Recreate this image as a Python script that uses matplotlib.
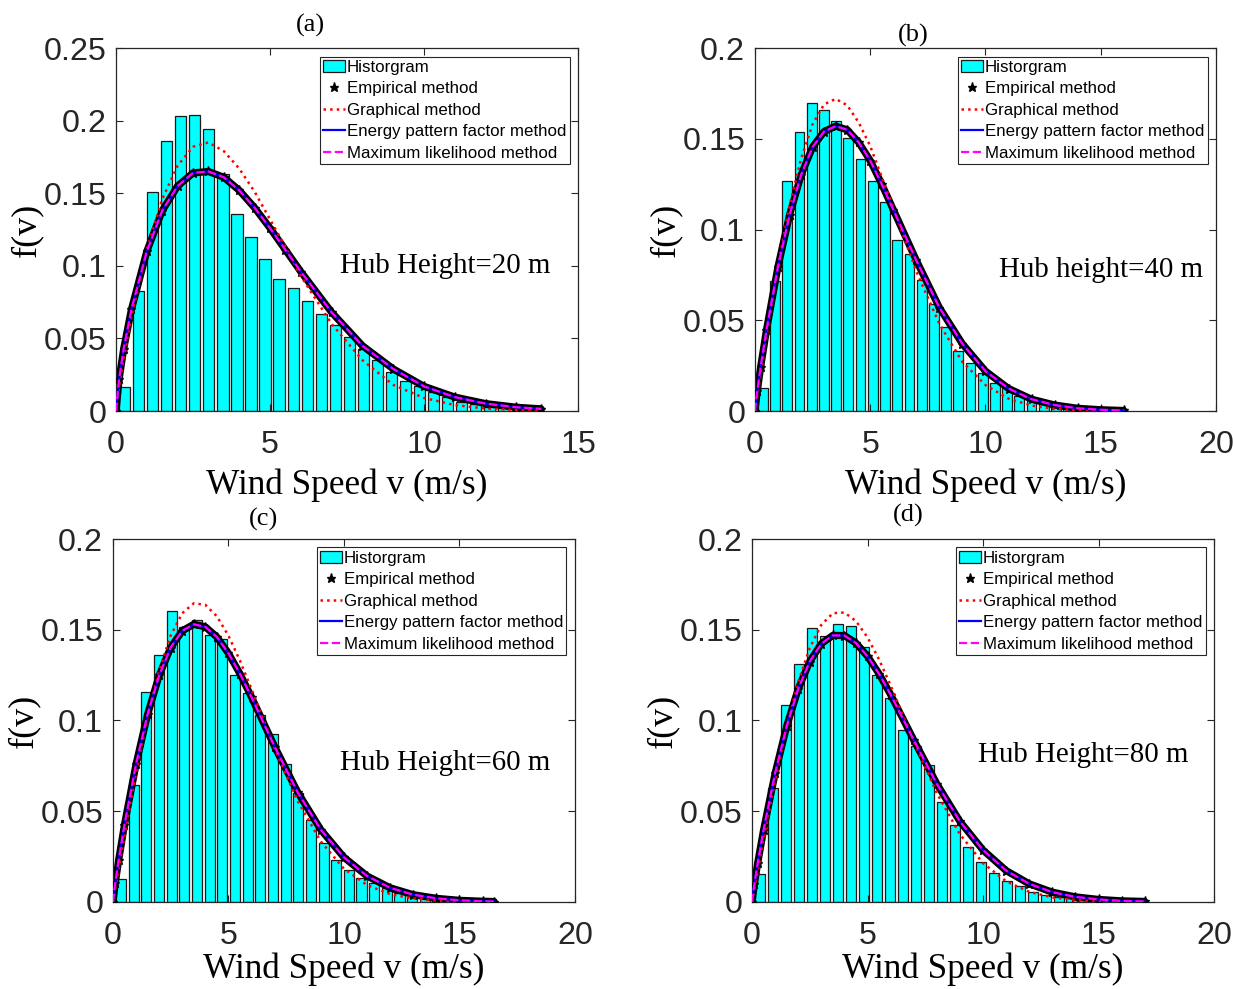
import numpy as np
import matplotlib
matplotlib.use('Agg')
import matplotlib.pyplot as plt
from matplotlib.ticker import FuncFormatter

# ---- data ----
# histogram: 30 bins per hub height (start edge, bin width, heights)
bars_a = [0.0165, 0.083, 0.151, 0.186, 0.203, 0.204, 0.194, 0.163, 0.136, 0.120,
          0.105, 0.091, 0.085, 0.076, 0.067, 0.059, 0.051, 0.043, 0.035, 0.027,
          0.021, 0.017, 0.013, 0.0094, 0.0064, 0.005, 0.003, 0.002, 0.001, 0.0006]
bars_b = [0.0128, 0.0717, 0.127, 0.154, 0.170, 0.1657, 0.160, 0.1506, 0.139, 0.127,
          0.115, 0.094, 0.0868, 0.0721, 0.0589, 0.0464, 0.0332, 0.0262, 0.0207, 0.0152,
          0.0125, 0.0083, 0.006, 0.0045, 0.0035, 0.0025, 0.0015, 0.001, 0.0007, 0.0004]
bars_c = [0.0128, 0.0644, 0.1156, 0.1363, 0.1606, 0.1517, 0.1554, 0.1472, 0.1451, 0.1253,
          0.1149, 0.1029, 0.0927, 0.0761, 0.0602, 0.045, 0.0323, 0.0229, 0.0174, 0.0134,
          0.0106, 0.0075, 0.005, 0.0035, 0.0025, 0.0018, 0.0012, 0.0008, 0.0005, 0.0003]
bars_d = [0.0152, 0.063, 0.1088, 0.1312, 0.151, 0.1468, 0.1529, 0.1519, 0.1404, 0.1253,
          0.1125, 0.0947, 0.0857, 0.0752, 0.0549, 0.0422, 0.0303, 0.022, 0.016, 0.0116,
          0.0088, 0.0057, 0.004, 0.003, 0.002, 0.0014, 0.001, 0.0006, 0.0004, 0.0002]
bin_start = [0.05, 0.075, 0.076, 0.07]
bin_width = [0.456, 0.53, 0.548, 0.562]

# fitted Weibull pdf curves (wind speed, pdf)
v_a = [0, 0.1, 0.25, 0.5, 1, 1.5, 2, 2.5, 3, 3.5, 4, 4.5, 5, 5.5, 6, 7, 8, 9, 10, 11, 12, 13, 13.8]
fit_a = [0, 0.022, 0.043, 0.070, 0.110, 0.138, 0.155, 0.164, 0.165, 0.161, 0.152, 0.140,
         0.126, 0.111, 0.096, 0.068, 0.045, 0.029, 0.017, 0.0096, 0.0051, 0.0026, 0.0015]
graph_a = [0, 0.017, 0.036, 0.065, 0.111, 0.146, 0.169, 0.182, 0.185, 0.179, 0.167, 0.151,
           0.132, 0.113, 0.093, 0.060, 0.035, 0.018, 0.009, 0.0041, 0.0017, 0.0007, 0.0003]

v_b = [0, 0.1, 0.25, 0.5, 1, 1.5, 2, 2.5, 3, 3.5, 4, 4.5, 5, 5.5, 6, 7, 8, 9, 10, 11, 12, 13, 14, 15, 16]
fit_b = [0, 0.011, 0.0245, 0.0447, 0.0796, 0.108, 0.130, 0.1455, 0.154, 0.157, 0.155, 0.148,
         0.138, 0.125, 0.111, 0.083, 0.057, 0.037, 0.022, 0.0124, 0.0065, 0.0033, 0.0015, 0.0007, 0.0003]
graph_b = [0, 0.0087, 0.0214, 0.042, 0.080, 0.113, 0.139, 0.158, 0.169, 0.172, 0.1685, 0.159,
           0.146, 0.129, 0.112, 0.077, 0.048, 0.027, 0.0143, 0.0068, 0.003, 0.0012, 0.0004, 0.00015, 0.0]

v_c = [0, 0.1, 0.25, 0.5, 1, 1.5, 2, 2.5, 3, 3.5, 4, 4.5, 5, 5.5, 6, 7, 8, 9, 10, 11, 12, 13, 14, 15, 16, 16.5]
fit_c = [0, 0.0104, 0.0233, 0.0426, 0.0759, 0.1034, 0.1248, 0.1402, 0.1494, 0.153, 0.1516, 0.146,
         0.137, 0.1257, 0.1128, 0.0856, 0.0604, 0.0398, 0.0246, 0.0143, 0.0078, 0.004, 0.002,
         0.0009, 0.0004, 0.00025]
graph_c = [0, 0.0074, 0.0185, 0.0366, 0.0713, 0.1021, 0.1276, 0.1468, 0.1591, 0.1646, 0.1637, 0.1574,
           0.1467, 0.1329, 0.1172, 0.0845, 0.0555, 0.0333, 0.0183, 0.0093, 0.0043, 0.0019, 0.0007,
           0.0003, 0.0001, 0.0]

v_d = [0, 0.1, 0.25, 0.5, 1, 1.5, 2, 2.5, 3, 3.5, 4, 4.5, 5, 5.5, 6, 7, 8, 9, 10, 11, 12, 13, 14, 15, 16, 17]
fit_d = [0, 0.0097, 0.0217, 0.0396, 0.0709, 0.0968, 0.1174, 0.1325, 0.1423, 0.1469, 0.1468, 0.1427,
         0.1354, 0.1257, 0.1143, 0.0893, 0.0651, 0.0444, 0.0286, 0.0173, 0.0100, 0.0054, 0.0028,
         0.0014, 0.0006, 0.0003]
graph_d = [0, 0.007, 0.0174, 0.0345, 0.0672, 0.0966, 0.1211, 0.140, 0.1527, 0.1591, 0.1595, 0.1548,
           0.1458, 0.1336, 0.1193, 0.0885, 0.060, 0.0373, 0.0214, 0.0114, 0.0056, 0.0025, 0.0011,
           0.0004, 0.0001, 0.0]

panel_titles = ['(a)', '(b)', '(c)', '(d)']
hub_labels = ['Hub Height=20 m', 'Hub height=40 m', 'Hub Height=60 m', 'Hub Height=80 m']
x_max = [15, 20, 20, 20]
y_max = [0.25, 0.2, 0.2, 0.2]

# ---- layout ----
axes_pos = [[0.0941, 0.5844, 0.3747, 0.367],
            [0.6123, 0.5844, 0.3739, 0.367],
            [0.0916, 0.0880, 0.3747, 0.367],
            [0.6099, 0.0880, 0.3747, 0.367]]
title_pos = [(0.42, 1.063), (0.343, 1.036), (0.325, 1.055), (0.338, 1.066)]
hub_pos = [(7.27, 0.100), (10.59, 0.0777), (9.83, 0.0766), (9.78, 0.081)]
xlabel_pad = [6, 6, 1, 1]

serif = 'Liberation Serif'
sans = 'Liberation Sans'

speeds = [v_a, v_b, v_c, v_d]
fits = [fit_a, fit_b, fit_c, fit_d]
graphs = [graph_a, graph_b, graph_c, graph_d]
bars = [bars_a, bars_b, bars_c, bars_d]

fig = plt.figure(figsize=(12.33, 9.89), dpi=100)
fmt = FuncFormatter(lambda x, p: '%g' % round(x, 4))

for i in range(4):
    ax = fig.add_axes(axes_pos[i])
    centers = bin_start[i] + (np.arange(len(bars[i])) + 0.5) * bin_width[i]
    h_bar = ax.bar(centers, bars[i], width=0.8 * bin_width[i], color='#00FFFF',
                   edgecolor='#1a1a1a', linewidth=0.9, label='Historgram', zorder=1)
    # empirical: dense stars -> thick black band
    ax.plot(speeds[i], fits[i], color='k', lw=5.2, solid_capstyle='round', zorder=2)
    h_emp, = ax.plot(speeds[i], fits[i], 'k*', ms=6.5, ls='none', label='Empirical method', zorder=3)
    h_gra, = ax.plot(speeds[i], graphs[i], color='red', ls=':', lw=1.8, label='Graphical method', zorder=4)
    h_epf, = ax.plot(speeds[i], fits[i], color='blue', lw=1.6, label='Energy pattern factor method', zorder=5)
    h_mle, = ax.plot(speeds[i], fits[i], color='magenta', ls='--', lw=1.6,
                     label='Maximum likelihood method', zorder=6)

    ax.set_xlim(0, x_max[i])
    ax.set_ylim(0, y_max[i])
    ax.set_xticks(np.arange(0, x_max[i] + 0.1, 5))
    ax.set_yticks(np.arange(0, y_max[i] + 0.001, 0.05))
    ax.yaxis.set_major_formatter(fmt)
    ax.xaxis.set_major_formatter(fmt)
    ax.tick_params(direction='in', top=True, right=True, length=5, width=0.8,
                   color='#262626', labelsize=23.2, pad=7)
    ax.tick_params(axis='x', pad=14)
    for lab in ax.get_xticklabels() + ax.get_yticklabels():
        lab.set_fontfamily(sans)
        lab.set_color('#262626')
    for s in ax.spines.values():
        s.set_color('#262626')
        s.set_linewidth(0.9)

    ax.set_xlabel('Wind Speed v (m/s)', fontsize=25.4, fontfamily=serif, labelpad=xlabel_pad[i])
    ax.set_ylabel('f(v)', fontsize=26, fontfamily=serif, labelpad=0)
    ax.text(title_pos[i][0], title_pos[i][1], panel_titles[i], transform=ax.transAxes,
            ha='center', va='center', fontsize=19, fontfamily=serif)
    ax.text(hub_pos[i][0], hub_pos[i][1], hub_labels[i], ha='left', va='center',
            fontsize=20.8, fontfamily=serif)

    leg = ax.legend([h_bar, h_emp, h_gra, h_epf, h_mle],
                    ['Historgram', 'Empirical method', 'Graphical method',
                     'Energy pattern factor method', 'Maximum likelihood method'],
                    loc='upper right', prop={'family': sans, 'size': 12.2},
                    fancybox=False, framealpha=1, edgecolor='#262626',
                    borderpad=0.2, labelspacing=0.38, handlelength=1.3,
                    handletextpad=0.08, borderaxespad=0.5)
    leg.get_frame().set_linewidth(0.8)

plt.savefig('out.png', dpi=100)
